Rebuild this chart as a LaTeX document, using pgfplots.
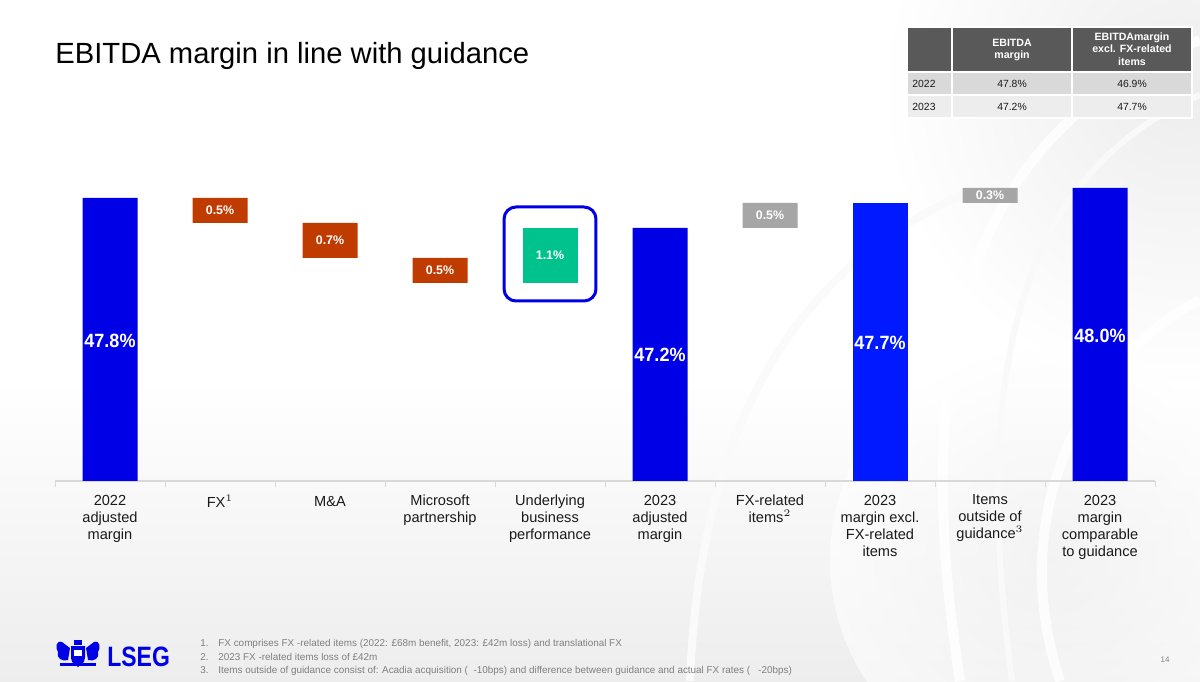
\documentclass[border=0pt]{standalone}
\usepackage{pgfplots}
\usepackage{pgfplotstable}
\pgfplotsset{compat=1.18}
\usepackage{fontspec}
\setmainfont{Liberation Sans}
\definecolor{lblue}{HTML}{0000E6}
\definecolor{lblueb}{HTML}{0019FF}
\definecolor{lred}{HTML}{BF3B00}
\definecolor{lgreen}{HTML}{00C28C}
\definecolor{lgray}{HTML}{A6A6A6}
\definecolor{hdr}{HTML}{595959}
\definecolor{rowa}{HTML}{D9D9D9}
\definecolor{rowb}{HTML}{EDEDED}
\definecolor{fn}{HTML}{7F7F7F}
\definecolor{txt}{HTML}{1A1A1A}

\pgfplotstableread{
idx base blue blueb red green gray
0 0    47.8 0    0   0   0
1 47.3 0    0    0.5 0   0
2 46.6 0    0    0.7 0   0
3 46.1 0    0    0.5 0   0
4 46.1 0    0    0   1.1 0
5 0    47.2 0    0   0   0
6 47.2 0    0    0   0   0.5
7 0    0    47.7 0   0   0
8 47.7 0    0    0   0   0.3
9 0    48.0 0    0   0   0
}\wftable

\newcommand{\biglab}[1]{\scalebox{0.94}[1]{\bfseries\fontsize{9.6}{10}\selectfont #1}}
\tikzset{bl/.style={text=white, inner sep=0},
         smllab/.style={text=white, inner sep=0, font=\bfseries\fontsize{6.2}{7}\selectfont}}
\pgfplotsset{wfframe/.style={at={(27.5pt,100pt)}, anchor=south west,
  scale only axis, width=550pt, height=155.5pt,
  xmin=-0.5, xmax=9.5, ymin=42.14, ymax=48.36}}

\begin{document}
\begin{tikzpicture}
\useasboundingbox (0,0) rectangle (600pt,340.5pt);
% background
\fill[white] (0,0) rectangle (600pt,340.5pt);
\shade[top color=white, bottom color=black!7] (0,0) rectangle (600pt,150pt);
\begin{scope}[x=0.5pt,y=-0.5pt,yshift=340.5pt]
  \shade[inner color=black!7, outer color=white] (1180,90) circle (300);
  \shade[inner color=black!5, outer color=white, opacity=0.6] (1050,560) circle (220);
  \draw[white, line width=5pt, opacity=0.8] (1200,40) .. controls (1000,120) and (900,300) .. (960,681);
  \draw[black!2.5, line width=3pt] (1200,95) .. controls (1040,165) and (965,330) .. (1012,681);
  \draw[black!2, line width=4pt] (690,681) .. controls (700,420) and (800,250) .. (1000,180);
  \draw[white, line width=5pt, opacity=0.8] (1200,300) .. controls (1100,350) and (1000,500) .. (1060,681);
  % title
  \node[anchor=base west, inner sep=0, font=\fontsize{14.6}{16}\selectfont, text=black] at (55,64) {EBITDA margin in line with guidance};
  % table
  \filldraw[fill=hdr, draw=white, line width=0.6pt] (907,27) rectangle (952,72);
  \filldraw[fill=hdr, draw=white, line width=0.6pt] (952,27) rectangle (1072,72);
  \filldraw[fill=hdr, draw=white, line width=0.6pt] (1072,27) rectangle (1192,72);
  \filldraw[fill=rowa, draw=white, line width=0.6pt] (907,72) rectangle (952,95);
  \filldraw[fill=rowa, draw=white, line width=0.6pt] (952,72) rectangle (1072,95);
  \filldraw[fill=rowa, draw=white, line width=0.6pt] (1072,72) rectangle (1192,95);
  \filldraw[fill=rowb, draw=white, line width=0.6pt] (907,95) rectangle (952,118);
  \filldraw[fill=rowb, draw=white, line width=0.6pt] (952,95) rectangle (1072,118);
  \filldraw[fill=rowb, draw=white, line width=0.6pt] (1072,95) rectangle (1192,118);
  \node[align=center, text=white, font=\bfseries\fontsize{5.3}{6.4}\selectfont, inner sep=0] at (1012,50) {EBITDA\\margin};
  \node[align=center, text=white, font=\bfseries\fontsize{5.3}{6.3}\selectfont, inner sep=0] at (1132,49) {EBITDAmargin\\excl. FX-related\\items};
  \node[anchor=west, font=\fontsize{5.2}{6}\selectfont, text=txt, inner sep=0] at (912,84) {2022};
  \node[font=\fontsize{5.2}{6}\selectfont, text=txt, inner sep=0] at (1012,84) {47.8\%};
  \node[font=\fontsize{5.2}{6}\selectfont, text=txt, inner sep=0] at (1132,84) {46.9\%};
  \node[anchor=west, font=\fontsize{5.2}{6}\selectfont, text=txt, inner sep=0] at (912,107) {2023};
  \node[font=\fontsize{5.2}{6}\selectfont, text=txt, inner sep=0] at (1012,107) {47.2\%};
  \node[font=\fontsize{5.2}{6}\selectfont, text=txt, inner sep=0] at (1132,107) {47.7\%};
  % footnotes
  \node[font=\fontsize{4.95}{5.5}\selectfont, text=fn, inner sep=0, anchor=base west] at (200,646) {1.};
  \node[font=\fontsize{4.95}{5.5}\selectfont, text=fn, inner sep=0, anchor=base west] at (218,646) {FX comprises FX -related items (2022: £68m benefit, 2023: £42m loss) and translational FX};
  \node[font=\fontsize{4.95}{5.5}\selectfont, text=fn, inner sep=0, anchor=base west] at (200,660) {2.};
  \node[font=\fontsize{4.95}{5.5}\selectfont, text=fn, inner sep=0, anchor=base west] at (218,660) {2023 FX -related items loss of £42m};
  \node[font=\fontsize{4.95}{5.5}\selectfont, text=fn, inner sep=0, anchor=base west] at (200,673) {3.};
  \node[font=\fontsize{4.95}{5.5}\selectfont, text=fn, inner sep=0, anchor=base west] at (218,673) {Items outside of guidance consist of: Acadia acquisition (\ \ -10bps) and difference between guidance and actual FX rates (\ \ \ -20bps)};
  \node[font=\fontsize{4}{5}\selectfont, text=fn] at (1165,660) {14};
  % logo
  \node[anchor=base west, inner sep=0, text=lblue] at (107,666) {\scalebox{0.82}[1]{\bfseries\fontsize{14}{16}\selectfont LSEG}};
  \fill[lblue] (71,646) -- (85,646) -- (85,658) .. controls (85,664) and (78,666) .. (78,667) .. controls (78,666) and (71,664) .. (71,658) -- cycle;
  \fill[white] (74,650) rectangle (82,656);
  \fill[lblue] (62,642) .. controls (56,640) and (55,648) .. (58,652) .. controls (56,658) and (62,662) .. (68,660) -- (70,648) -- cycle;
  \fill[lblue] (94,642) .. controls (100,640) and (101,648) .. (98,652) .. controls (100,658) and (94,662) .. (88,660) -- (86,648) -- cycle;
  \fill[lblue] (60,663) rectangle (96,666);
  \fill[lblue] (74,640) rectangle (82,645);
\end{scope}

\begin{axis}[
  wfframe,
  ybar stacked, bar width=27.5pt,
  hide y axis,
  axis x line*=bottom,
  x axis line style={draw=black!15, line width=0.6pt},
  xtick={0,1,2,3,4,5,6,7,8,9},
  xticklabels={{2022\\adjusted\\margin},{\strut FX$^{\scriptscriptstyle 1}$},{\strut M\&A},{Microsoft\\partnership},{Underlying\\business\\performance},{2023\\adjusted\\margin},{FX-related\\items$^{\scriptscriptstyle 2}$},{2023\\margin excl.\\FX-related\\items},{Items\\outside of\\guidance$^{\scriptscriptstyle 3}$},{2023\\margin\\comparable\\to guidance}},
  minor xtick={-0.5,0.5,1.5,2.5,3.5,4.5,5.5,6.5,7.5,8.5,9.5},
  major tick length=0pt, minor tick length=3pt, tick align=outside,
  tick style={draw=black!15, line width=0.5pt},
  xticklabel style={align=center, font=\fontsize{7.3}{8.5}\selectfont, text=txt, yshift=-3.4pt},
]
\addplot[fill=none, draw=none] table[x=idx,y=base]{\wftable};
\addplot[fill=lblue, draw=none] table[x=idx,y=blue]{\wftable};
\addplot[fill=lblueb, draw=none] table[x=idx,y=blueb]{\wftable};
\addplot[fill=lred, draw=none] table[x=idx,y=red]{\wftable};
\addplot[fill=lgreen, draw=none] table[x=idx,y=green]{\wftable};
\addplot[fill=lgray, draw=none] table[x=idx,y=gray]{\wftable};
\end{axis}

\begin{axis}[wfframe, hide axis, clip=false]
\draw[lblue, line width=1.5pt, rounded corners=6pt] (axis cs:3.582,47.62) rectangle (axis cs:4.418,45.74);
\node[bl] at (axis cs:0,44.95) {\biglab{47.8\%}};
\node[bl] at (axis cs:5,44.67) {\biglab{47.2\%}};
\node[bl] at (axis cs:7,44.91) {\biglab{47.7\%}};
\node[bl] at (axis cs:9,45.05) {\biglab{48.0\%}};
\node[smllab] at (axis cs:1,47.55) {0.5\%};
\node[smllab] at (axis cs:2,46.95) {0.7\%};
\node[smllab] at (axis cs:3,46.35) {0.5\%};
\node[smllab] at (axis cs:4,46.65) {1.1\%};
\node[smllab] at (axis cs:6,47.45) {0.5\%};
\node[smllab] at (axis cs:8,47.85) {0.3\%};
\end{axis}
\end{tikzpicture}
\end{document}
